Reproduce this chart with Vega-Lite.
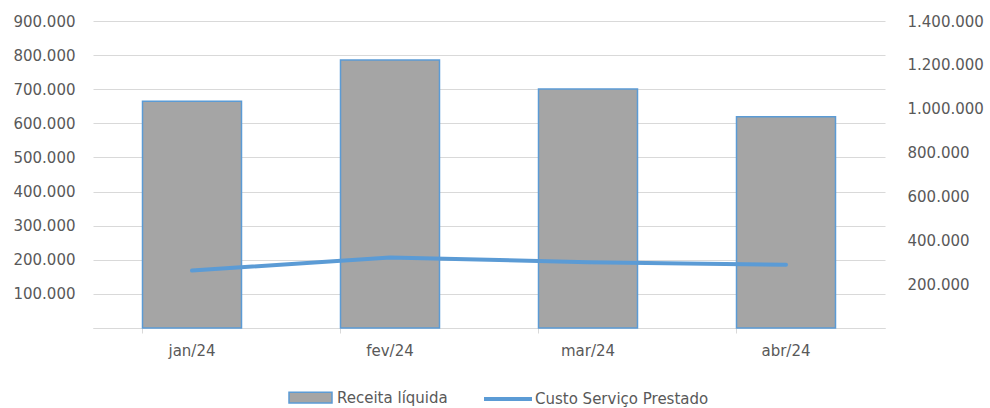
{
  "$schema": "https://vega.github.io/schema/vega-lite/v6.json",
  "width": 792,
  "height": 307,
  "autosize": {"type": "none"},
  "padding": {"left": 93, "top": 21, "right": 105, "bottom": 80},
  "background": "white",
  "config": {
    "view": {"stroke": null},
    "locale": {"number": {"decimal": ",", "thousands": ".", "grouping": [3], "currency": ["R$", ""]}},
    "font": "DejaVu Sans",
    "axis": {"labelFont": "DejaVu Sans", "labelColor": "#595959", "labelFontSize": 15},
    "legend": {"labelFont": "DejaVu Sans", "labelColor": "#595959", "labelFontSize": 15, "labelLimit": 400}
  },
  "data": {
    "values": [
      {"mes": "jan/24", "receita": 665000, "custo": 262000},
      {"mes": "fev/24", "receita": 786000, "custo": 322000},
      {"mes": "mar/24", "receita": 701000, "custo": 300000},
      {"mes": "abr/24", "receita": 619000, "custo": 288000}
    ]
  },
  "encoding": {
    "x": {
      "field": "mes",
      "type": "nominal",
      "sort": null,
      "scale": {"paddingInner": 0.5, "paddingOuter": 0.25},
      "axis": {
        "title": null,
        "labelAngle": 0,
        "domainColor": "#d9d9d9",
        "tickColor": "#d9d9d9",
        "tickSize": 5,
        "bandPosition": 0,
        "labelPadding": 10,
        "grid": false
      }
    }
  },
  "layer": [
    {
      "mark": {"type": "bar", "stroke": "#5b9bd5", "strokeWidth": 1.5},
      "encoding": {
        "y": {
          "field": "receita",
          "type": "quantitative",
          "scale": {"domain": [0, 900000], "nice": false},
          "axis": {
            "title": null,
            "values": [0, 100000, 200000, 300000, 400000, 500000, 600000, 700000, 800000, 900000],
            "format": ",.0f",
            "labelExpr": "datum.value == 0 ? '' : datum.label",
            "domain": false,
            "ticks": false,
            "labelPadding": 18,
            "grid": true,
            "gridColor": "#d9d9d9",
            "gridWidth": 1
          }
        },
        "fill": {
          "datum": "Receita líquida",
          "type": "nominal",
          "scale": {"range": ["#a5a5a5"]},
          "legend": {
            "title": null,
            "orient": "none",
            "legendX": 195,
            "legendY": 354,
            "padding": 0,
            "symbolType": "M-1,-0.25H1V0.25H-1Z",
            "symbolSize": 1849,
            "symbolStrokeColor": "#5b9bd5",
            "symbolStrokeWidth": 1.5,
            "labelOffset": 4
          }
        }
      }
    },
    {
      "mark": {"type": "line", "strokeWidth": 4, "strokeCap": "round"},
      "encoding": {
        "y": {
          "field": "custo",
          "type": "quantitative",
          "scale": {"domain": [0, 1400000], "nice": false},
          "axis": {
            "title": null,
            "orient": "right",
            "values": [0, 200000, 400000, 600000, 800000, 1000000, 1200000, 1400000],
            "format": ",.0f",
            "labelExpr": "datum.value == 0 ? '' : datum.label",
            "domain": false,
            "ticks": false,
            "labelPadding": 22,
            "grid": false
          }
        },
        "stroke": {
          "datum": "Custo Serviço Prestado",
          "type": "nominal",
          "scale": {"range": ["#5b9bd5"]},
          "legend": {
            "title": null,
            "orient": "none",
            "legendX": 389,
            "legendY": 352,
            "padding": 0,
            "symbolType": "stroke",
            "symbolSize": 2304,
            "symbolStrokeWidth": 4,
            "labelOffset": 1
          }
        }
      }
    }
  ],
  "resolve": {"scale": {"y": "independent"}}
}
